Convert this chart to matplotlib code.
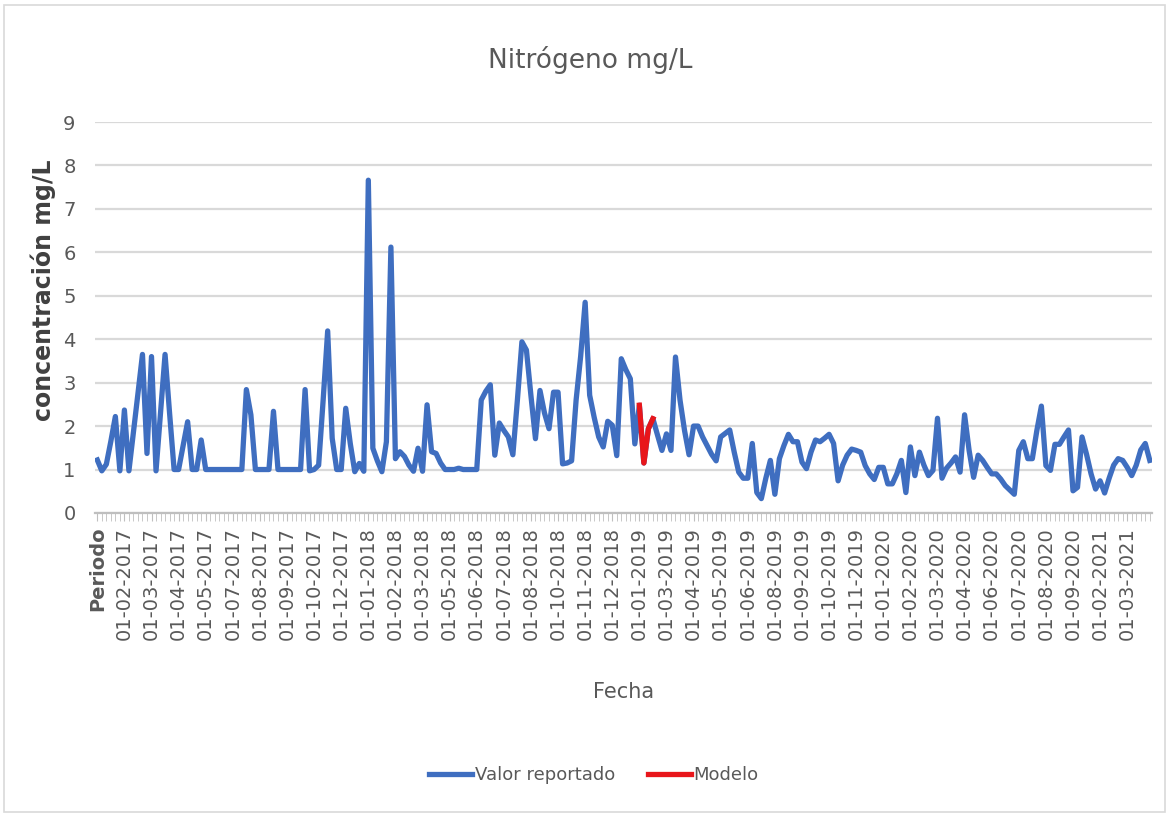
import matplotlib
matplotlib.use("Agg")
import matplotlib.pyplot as plt
from matplotlib.patches import Rectangle
import numpy as np

# valores (un valor por fecha de muestreo)
valor_reportado = [
    1.22, 0.97, 1.12, 1.65, 2.22, 0.97, 2.37, 0.97, 1.85, 2.75,
    3.65, 1.37, 3.6, 0.97, 2.3, 3.65, 2.3, 1.0, 1.0, 1.55,
    2.1, 1.0, 1.0, 1.68, 1.0, 1.0, 1.0, 1.0, 1.0, 1.0,
    1.0, 1.0, 1.0, 2.84, 2.26, 1.0, 1.0, 1.0, 1.0, 2.34,
    1.0, 1.0, 1.0, 1.0, 1.0, 1.0, 2.84, 0.97, 1.0, 1.1,
    2.6, 4.19, 1.72, 1.0, 1.0, 2.41, 1.6, 0.95, 1.14, 0.96,
    7.66, 1.49, 1.2, 0.95, 1.64, 6.12, 1.25, 1.41, 1.3, 1.1,
    0.96, 1.49, 0.96, 2.49, 1.41, 1.37, 1.15, 1.0, 1.0, 1.0,
    1.03, 1.0, 1.0, 1.0, 1.0, 2.6, 2.8, 2.95, 1.33, 2.07,
    1.9, 1.75, 1.34, 2.6, 3.94, 3.75, 2.7, 1.71, 2.82, 2.3,
    1.94, 2.78, 2.78, 1.13, 1.15, 1.2, 2.6, 3.6, 4.85, 2.71,
    2.2, 1.75, 1.52, 2.11, 2.02, 1.32, 3.55, 3.3, 3.09, 1.59,
    2.48, 1.15, 1.94, 2.17, 1.8, 1.44, 1.82, 1.44, 3.59, 2.6,
    1.9, 1.34, 2.0, 2.0, 1.75, 1.55, 1.35, 1.2, 1.75, 1.83,
    1.91, 1.4, 0.94, 0.8, 0.8, 1.6, 0.47, 0.33, 0.8, 1.21,
    0.43, 1.25, 1.55, 1.81, 1.64, 1.64, 1.17, 1.02, 1.4, 1.68,
    1.64, 1.72, 1.81, 1.6, 0.74, 1.1, 1.33, 1.47, 1.44, 1.4,
    1.09, 0.9, 0.77, 1.05, 1.05, 0.67, 0.67, 0.9, 1.21, 0.47,
    1.52, 0.86, 1.4, 1.1, 0.86, 0.98, 2.18, 0.8, 1.03, 1.15,
    1.29, 0.94, 2.26, 1.44, 0.82, 1.33, 1.21, 1.05, 0.9, 0.9,
    0.78, 0.63, 0.53, 0.43, 1.44, 1.64, 1.25, 1.25, 1.9, 2.46,
    1.09, 0.98, 1.58, 1.58, 1.75, 1.91, 0.51, 0.59, 1.75, 1.35,
    0.9, 0.55, 0.74, 0.46, 0.8, 1.1, 1.25, 1.21, 1.05, 0.86,
    1.1, 1.45, 1.6, 1.21,
]

# modelo: empieza en la fecha 01-01-2019
modelo_inicio = 120
modelo = [2.48, 1.15, 1.94, 2.17]

etiquetas = [
    "Periodo",
    "01-02-2017", "01-03-2017", "01-04-2017", "01-05-2017", "01-07-2017",
    "01-08-2017", "01-09-2017", "01-10-2017", "01-12-2017",
    "01-01-2018", "01-02-2018", "01-03-2018", "01-05-2018", "01-06-2018",
    "01-07-2018", "01-08-2018", "01-10-2018", "01-11-2018", "01-12-2018",
    "01-01-2019", "01-03-2019", "01-04-2019", "01-05-2019", "01-06-2019",
    "01-08-2019", "01-09-2019", "01-10-2019", "01-11-2019",
    "01-01-2020", "01-02-2020", "01-03-2020", "01-04-2020", "01-06-2020",
    "01-07-2020", "01-08-2020", "01-09-2020",
    "01-02-2021", "01-03-2021",
]
paso_etiquetas = 6

n = len(valor_reportado)
x = np.arange(n)
serie_modelo = np.full(n, np.nan)
serie_modelo[modelo_inicio:modelo_inicio + len(modelo)] = modelo

gris = "#595959"
fig = plt.figure(figsize=(11.69, 8.15), dpi=100)
ax = fig.add_axes([0.0813, 0.3706, 0.9042, 0.4797])

ax.plot(x, valor_reportado, color="#3F6EC0", lw=3.8, solid_joinstyle="round",
        label="Valor reportado", zorder=3)
ax.plot(x, serie_modelo, color="#E8161B", lw=3.8, solid_joinstyle="round",
        label="Modelo", zorder=4)

ax.set_xlim(-0.5, n - 0.5)
ax.set_ylim(0, 9)
ax.set_yticks(range(0, 10))
ax.yaxis.grid(True, color="#D9D9D9", lw=1.6)
ax.set_axisbelow(True)

ax.set_xticks(np.arange(0, len(etiquetas) * paso_etiquetas, paso_etiquetas))
ax.set_xticklabels(etiquetas, rotation=90, fontsize=14, color=gris)
ax.get_xticklabels()[0].set_fontweight("bold")
ax.set_xticks(x, minor=True)
ax.tick_params(axis="x", which="both", length=6, color="#BFBFBF", pad=4)
ax.tick_params(axis="y", length=0, labelsize=14, labelcolor=gris, pad=14)

for s in ["top", "right", "left"]:
    ax.spines[s].set_visible(False)
ax.spines["bottom"].set_color("#BFBFBF")
ax.spines["bottom"].set_linewidth(1.6)

ax.set_ylabel("concentración mg/L", fontsize=17, fontweight="bold",
              color="#404040")
ax.yaxis.set_label_coords(-0.037, 0.57)
ax.set_xlabel("Fecha", fontsize=15, color=gris, labelpad=30)

fig.text(0.505, 0.926, "Nitrógeno mg/L", ha="center", va="center",
         fontsize=19, color=gris)

fig.legend(loc="center", bbox_to_anchor=(0.508, 0.049), ncol=2, frameon=False,
           fontsize=13, labelcolor=gris, handlelength=2.4, handletextpad=0.15,
           columnspacing=1.8)

fig.patches.append(Rectangle((0.003, 0.004), 0.994, 0.99, transform=fig.transFigure,
                             fill=False, edgecolor="#D9D9D9", lw=1.2))

plt.savefig("out.png", dpi=100)
